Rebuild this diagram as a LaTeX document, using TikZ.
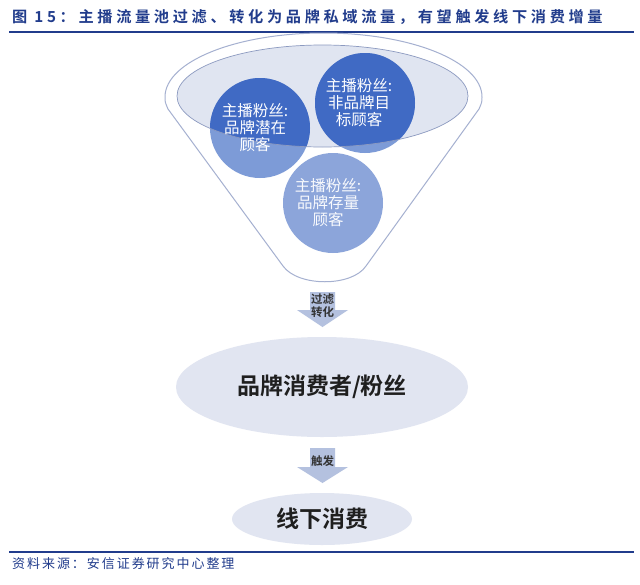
\documentclass[tikz,border=0pt]{standalone}
\usepackage{fontspec}
\newfontfamily\cjk{Noto Sans CJK SC}
\newfontfamily\cjkb{Noto Sans CJK SC Bold}
\newfontfamily\cjkt[LetterSpace=24]{Noto Sans CJK SC Bold}
\newfontfamily\cjks[LetterSpace=15]{Noto Sans CJK SC}
\usetikzlibrary{positioning,shapes.geometric}
\definecolor{titleblue}{RGB}{33,60,140}
\definecolor{rimline}{RGB}{165,176,208}
\definecolor{innerfill}{RGB}{224,229,241}
\definecolor{innerline}{RGB}{140,154,192}
\definecolor{darkc}{RGB}{64,106,196}
\definecolor{lightc}{RGB}{125,155,215}
\definecolor{lightc2}{RGB}{140,165,218}
\definecolor{arrowc}{RGB}{180,193,223}
\definecolor{ellc}{RGB}{225,229,241}
\tikzset{
  circtext/.style={text=white, align=center, font=\cjk\fontsize{15.5}{17}\selectfont},
  arrtext/.style={text=black!80, align=center, font=\cjkb\fontsize{11.5}{13}\selectfont},
  blockarrow/.style={fill=arrowc, draw=none},
  bigell/.style={fill=ellc, draw=none},
}
\begin{document}
\begin{tikzpicture}[x=1pt,y=-1pt]
\useasboundingbox (0,0) rectangle (640,584);
\fill[white] (0,0) rectangle (640,584);
% title
\node[anchor=west, text=titleblue, font=\cjkt\fontsize{15.2}{17}\selectfont, inner sep=0] (title) at (12,17) {图 15：主播流量池过滤、转化为品牌私域流量，有望触发线下消费增量};
\draw[titleblue, line width=1.6pt] (9,32) -- (634,32);
% funnel outer
\draw[rimline, line width=1pt, fill=white]
  (165,97) arc[start angle=180, end angle=360, x radius=158.5, y radius=64]
  .. controls (482,102) .. (479,109) -- (366,266)
  .. controls (352,287) and (298,287) .. (283,266)
  -- (168,109) .. controls (165,102) .. (165,97) -- cycle;
% inner ellipse
\fill[innerfill] (322.5,96) ellipse[x radius=145.5, y radius=51];
% circles (outside parts)
\fill[lightc] (260,128) circle[radius=50];
\fill[lightc] (365,103) circle[radius=50];
\fill[lightc2] (333,203) circle[radius=50];
% circles inside ellipse
\begin{scope}
  \clip (322.5,96) ellipse[x radius=145.5, y radius=51];
  \fill[darkc] (260,128) circle[radius=50];
  \fill[darkc] (365,103) circle[radius=50];
\end{scope}
\draw[innerline, line width=0.7pt] (322.5,96) ellipse[x radius=145.5, y radius=51];
\node[circtext] (c1) at (255,128) {主播粉丝:\\品牌潜在\\顾客};
\node[circtext] (c2) at (359,103) {主播粉丝:\\非品牌目\\标顾客};
\node[circtext, text=white!95!lightc2] (c3) at (328,203) {主播粉丝:\\品牌存量\\顾客};
% arrow 1
\fill[blockarrow] (310,292) -- (335,292) -- (335,310) -- (348,310) -- (322.5,327) -- (297,310) -- (310,310) -- cycle;
\node[arrtext] (a1) at (322.5,306) {过滤\\转化};
% ellipse 1
\node[bigell, ellipse, minimum width=292pt, minimum height=100pt, inner sep=0, font=\cjkb\fontsize{23}{26}\selectfont, text=black!88] (e1) at (322,387) {品牌消费者/粉丝};
% arrow 2
\fill[blockarrow] (310,448) -- (335,448) -- (335,467) -- (348,467) -- (322.5,483) -- (297,467) -- (310,467) -- cycle;
\node[arrtext] (a2) at (322.5,461) {触发};
% ellipse 2
\node[bigell, ellipse, minimum width=180pt, minimum height=52pt, inner sep=0, font=\cjkb\fontsize{23}{26}\selectfont, text=black!88] (e2) at (322,519) {线下消费};
% bottom line and source
\draw[titleblue, line width=1.6pt] (9,552) -- (634,552);
\node[anchor=west, text=titleblue, font=\cjks\fontsize{13}{15}\selectfont, inner sep=0] (src) at (12,564) {资料来源：安信证券研究中心整理};
\end{tikzpicture}
\end{document}
